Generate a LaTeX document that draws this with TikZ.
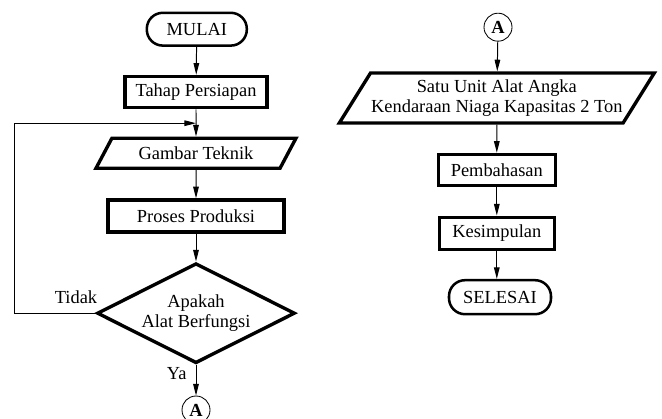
\documentclass[tikz,border=0pt]{standalone}
\usepackage{fontspec}
\setmainfont{Liberation Serif}
\usepackage{tikz}
\usetikzlibrary{arrows.meta,shapes.geometric,positioning}

\begin{document}
\begin{tikzpicture}[
  font=\fontsize{13.1}{14.4}\selectfont,
  proc/.style={draw,line width=2.4pt,minimum height=0.78cm,inner sep=0pt},
  io/.style={draw,line width=2.4pt,trapezium,trapezium left angle=50,trapezium right angle=130,trapezium stretches=true,inner sep=0pt,align=center},
  term/.style={draw,line width=1.8pt,rounded corners=0.4cm,minimum height=0.82cm,inner sep=0pt},
  decide/.style={draw,line width=2.4pt,diamond,aspect=2,minimum width=4.95cm,minimum height=2.5cm,inner sep=0pt,align=center},
  conn/.style={draw,circle,line width=0.6pt,minimum size=0.7cm,inner sep=0pt,font=\fontsize{13.1}{14.4}\selectfont\bfseries},
  flow/.style={-{Triangle[length=2.9mm,width=1.4mm]},line width=0.7pt}
]
  \useasboundingbox (0,0) rectangle (16.55,10.45);
  \node[term,minimum width=2.5cm] (mulai) at (4.92,9.72) {MULAI};
  \node[proc,minimum width=3.55cm] (siap) at (4.9,8.15) {Tahap Persiapan};
  \node[io,minimum width=5.05cm,minimum height=0.75cm] (gambar) at (4.9,6.62) {Gambar Teknik};
  \node[proc,minimum width=4.4cm,minimum height=0.8cm] (produksi) at (4.9,5.05) {Proses Produksi};
  \node[decide] (cek) at (4.9,2.62) {Apakah\\Alat Berfungsi};
  \node (tidak) at (1.9,3.02) {Tidak};
  \node (ya) at (4.42,1.12) {Ya};
  \node[conn] (a1) at (4.9,0.2) {A};
  \coordinate (balik) at (4.9,7.37);
  \draw[flow] (mulai) -- (siap);
  \draw[flow] (siap) -- (gambar);
  \draw[flow] (gambar) -- (produksi);
  \draw[flow] (produksi) -- (cek);
  \draw[flow] (cek) -- (a1);
  \draw[flow] (cek.west) -- (0.37,2.62) |- (balik);

  \node[conn] (a2) at (12.45,9.77) {A};
  \node[io,minimum width=7.9cm,minimum height=1.25cm] (unit) at (12.42,8.0) {Satu Unit Alat Angka\\Kendaraan Niaga Kapasitas 2 Ton};
  \node[proc,minimum width=2.92cm] (bahas) at (12.42,6.2) {Pembahasan};
  \node[proc,minimum width=2.88cm,minimum height=0.8cm] (simpul) at (12.42,4.62) {Kesimpulan};
  \node[term,minimum width=2.55cm,minimum height=0.85cm] (selesai) at (12.5,3.02) {SELESAI};
  \draw[flow] (a2) -- (unit);
  \draw[flow] (unit) -- (bahas);
  \draw[flow] (bahas) -- (simpul);
  \draw[flow] (simpul) -- (selesai.north -| simpul);
\end{tikzpicture}
\end{document}
